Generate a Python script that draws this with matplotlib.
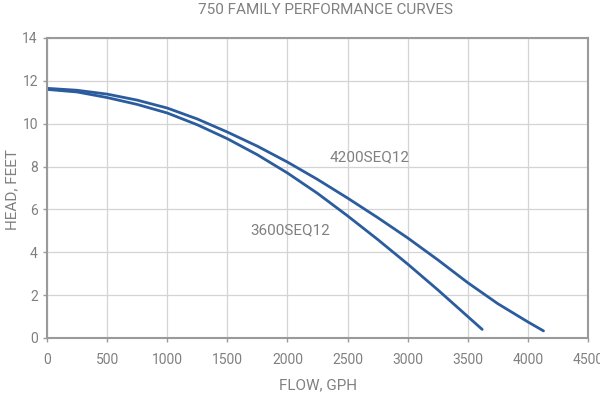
import numpy as np
import matplotlib.pyplot as plt

plt.rcParams['font.family'] = ['Roboto', 'DejaVu Sans']

# flow (GPH) vs head (feet)
flow_4200 = [0, 250, 500, 750, 1000, 1250, 1500, 1750, 2000, 2250, 2500, 2750, 3000, 3250, 3500, 3750, 4000, 4130]
head_4200 = [11.65, 11.56, 11.38, 11.1, 10.73, 10.22, 9.61, 8.95, 8.21, 7.4, 6.53, 5.62, 4.67, 3.65, 2.58, 1.6, 0.75, 0.33]

flow_3600 = [0, 250, 500, 750, 1000, 1250, 1500, 1750, 2000, 2250, 2500, 2750, 3000, 3250, 3500, 3620]
head_3600 = [11.6, 11.48, 11.22, 10.9, 10.5, 9.95, 9.3, 8.55, 7.7, 6.75, 5.7, 4.6, 3.45, 2.25, 1.0, 0.4]

xticks = [0, 500, 1000, 1500, 2000, 2500, 3000, 3500, 4000, 4500]
yticks = [0, 2, 4, 6, 8, 10, 12, 14]

txt = "#808080"
blue = "#2b5c9e"

fig = plt.figure(figsize=(6, 3.98), dpi=100)
ax = fig.add_axes([0.0783, 0.1508, 0.9017, 0.7538])

ax.plot(flow_4200, head_4200, color=blue, lw=2.0, solid_capstyle="round", solid_joinstyle="round")
ax.plot(flow_3600, head_3600, color=blue, lw=2.0, solid_capstyle="round", solid_joinstyle="round")

ax.text(2350, 8.45, "4200SEQ12", color=txt, fontsize=11, va="center", ha="left")
ax.text(1690, 5.0, "3600SEQ12", color=txt, fontsize=11, va="center", ha="left")

ax.set_xlim(0, 4500)
ax.set_ylim(0, 14)
ax.set_xticks(xticks)
ax.set_yticks(yticks)
ax.grid(True, color="#d4d4d4", lw=0.9)
ax.set_axisbelow(True)
for s in ax.spines.values():
    s.set_color("#9a9a9a")
    s.set_linewidth(1.5)
ax.tick_params(colors="#9a9a9a", labelcolor=txt, labelsize=10, length=3, width=1)
ax.tick_params(axis="x", pad=8)

fig.text(0.53, 0.033, "FLOW, GPH", color=txt, fontsize=11, ha="center", va="center")
fig.text(0.02, 0.523, "HEAD, FEET", color=txt, fontsize=11, ha="center", va="center", rotation=90)
fig.text(0.542, 0.975, "750 FAMILY PERFORMANCE CURVES", color=txt, fontsize=11, ha="center", va="center")

plt.savefig("out.png", dpi=100)
